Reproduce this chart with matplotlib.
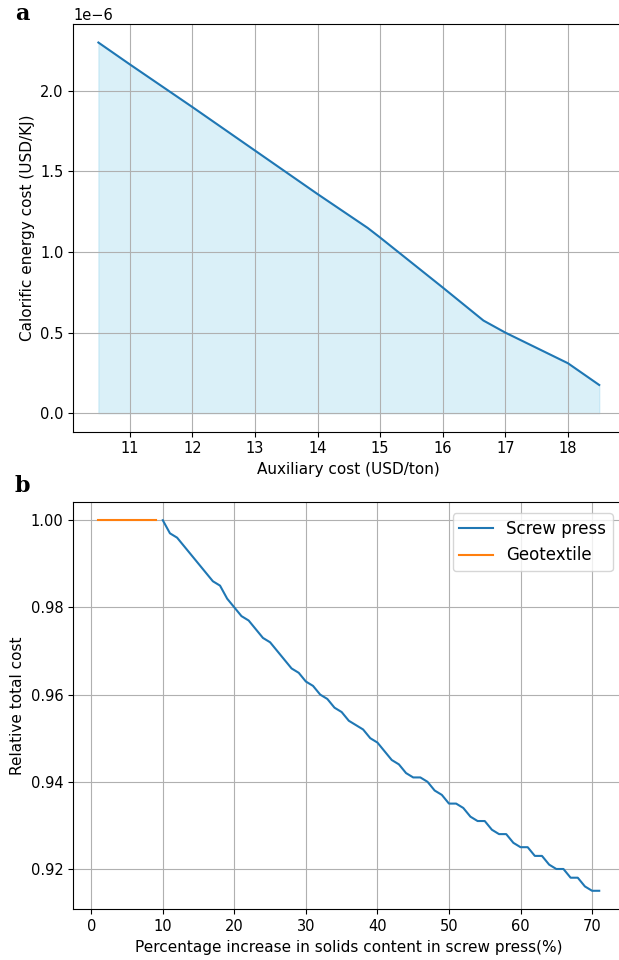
"""
Cost sensitivity plots: (a) calorific energy cost vs auxiliary cost,
(b) relative total cost vs solids content increase.
"""
import matplotlib
matplotlib.use('Agg')
import matplotlib.pyplot as plt
import numpy as np

# Panel a data (values in 1e-6 USD/KJ)
aux_cost = [10.5, 11, 12, 13, 14, 14.8, 15, 16, 16.65, 17, 18, 18.5]
calorific_cost = [2.30, 2.165, 1.90, 1.63, 1.36, 1.15, 1.09, 0.78, 0.575,
                  0.50, 0.31, 0.175]

# Panel b data
geo_pct = [1, 2, 3, 4, 5, 6, 7, 8, 9]
geo_cost = [1.0, 1.0, 1.0, 1.0, 1.0, 1.0, 1.0, 1.0, 1.0]

screw_pct = list(range(10, 72))
screw_cost = [1.000, 0.997, 0.996, 0.994, 0.992, 0.990, 0.988, 0.986, 0.985,
              0.982, 0.980, 0.978, 0.977, 0.975, 0.973, 0.972, 0.970, 0.968,
              0.966, 0.965, 0.963, 0.962, 0.960, 0.959, 0.957, 0.956, 0.954,
              0.953, 0.952, 0.950, 0.949, 0.947, 0.945, 0.944, 0.942, 0.941,
              0.941, 0.940, 0.938, 0.937, 0.935, 0.935, 0.934, 0.932, 0.931,
              0.931, 0.929, 0.928, 0.928, 0.926, 0.925, 0.925, 0.923, 0.923,
              0.921, 0.920, 0.920, 0.918, 0.918, 0.916, 0.915, 0.915]

plt.rcParams['xtick.labelsize'] = 10.5
plt.rcParams['ytick.labelsize'] = 10.5

fig = plt.figure(figsize=(6.19, 9.6), dpi=100)

# Panel a (right spine falls just outside the picture, as in the source)
ax1 = fig.add_axes([0.1185, 0.5503, 0.89, 0.4247])
x = np.array(aux_cost)
y = np.array(calorific_cost) * 1e-6
ax1.plot(x, y, color='tab:blue')
ax1.fill_between(x, y, color='skyblue', alpha=0.3)
ax1.set_xlabel('Auxiliary cost (USD/ton)', fontsize=11)
ax1.set_ylabel('Calorific energy cost (USD/KJ)', fontsize=11)
ax1.yaxis.get_offset_text().set_fontsize(10.5)
ax1.grid(True)

# Panel b
ax2 = fig.add_axes([0.1185, 0.0528, 0.89, 0.4246])
ax2.plot(screw_pct, screw_cost, color='tab:blue', label='Screw press')
ax2.plot(geo_pct, geo_cost, color='tab:orange', label='Geotextile')
ax2.set_xlabel('Percentage increase in solids content in screw press(%)',
               fontsize=11)
ax2.set_ylabel('Relative total cost', fontsize=11)
ax2.legend(loc='upper right', fontsize=12, borderaxespad=0.7)
ax2.grid(True)

fig.text(22 / 619, 1 - 14 / 960, 'a', fontsize=16, fontweight='bold',
         family='DejaVu Serif', ha='center', va='center')
fig.text(22 / 619, 1 - 486 / 960, 'b', fontsize=16, fontweight='bold',
         family='DejaVu Serif', ha='center', va='center')

fig.savefig('out.png', dpi=100)
